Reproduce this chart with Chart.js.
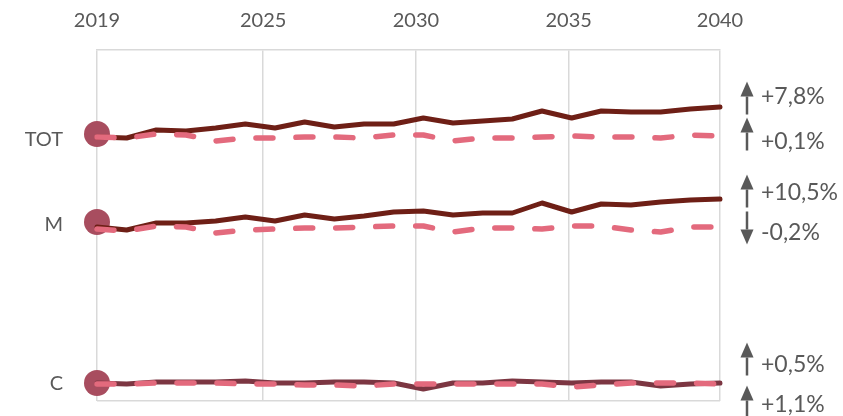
<!DOCTYPE html>
<html>
<head>
<meta charset="utf-8">
<script src="https://cdn.jsdelivr.net/npm/chart.js@4.4.1/dist/chart.umd.min.js"></script>
<style>
    html, body { margin: 0; padding: 0; background: #ffffff; }
    #wrap { width: 843px; height: 416px; }
</style>
</head>
<body>
<div id="wrap"><canvas id="trendChart" width="843" height="416"></canvas></div>
<script>
// values are levels in chart units (0 = bottom of plot, 351 = top)
var years = [2019, 2020, 2021, 2022, 2023, 2024, 2025, 2026, 2027, 2028, 2029,
             2030, 2031, 2032, 2033, 2034, 2035, 2036, 2037, 2038, 2039, 2040];
var tickYears = [2019, 2024.6, 2029.75, 2034.9, 2040];
var tickLabels = ['2019', '2025', '2030', '2035', '2040'];

var rowLabels = ['TOT', 'M', 'C'];
var rowLevels = [261, 176, 17];
var markerLevels = [267, 179, 18];

var totSolid = [264, 263, 271, 270, 273, 277, 273, 279, 274, 277, 277, 283, 278, 280, 282, 290, 283, 290, 289, 289, 292, 294];
var totDashed = [264, 263, 267, 266, 260, 263, 263, 264, 264, 263, 266, 266, 260, 263, 263, 264, 265, 264, 264, 263, 266, 265];
var mSolid = [174, 171, 178, 178, 180, 184, 180, 186, 182, 185, 189, 190, 186, 188, 188, 198, 189, 197, 196, 199, 201, 202];
var mDashed = [172, 170, 175, 174, 168, 171, 172, 173, 173, 174, 175, 175, 169, 173, 173, 172, 175, 175, 171, 169, 174, 174];
var cSolid = [18, 17, 19, 19, 19, 20, 18, 18, 19, 19, 18, 12, 18, 18, 20, 19, 18, 19, 19, 15, 17, 18];
var cDashed = [17, 17, 18, 18, 18, 17, 17, 16, 16, 15, 17, 17, 17, 17, 17, 17, 14, 16, 18, 18, 18, 17];

var changeLabels = ['+7,8%', '+0,1%', '+10,5%', '-0,2%', '+0,5%', '+1,1%'];
var changeDirections = ['up', 'up', 'up', 'down', 'up', 'up'];

var TrendChart = (function(Chart) {
    var FONT = "Lato, 'Open Sans', sans-serif";
    var TEXT = '#595959';
    var GRID = '#d9d9d9';
    var DARK = '#6e1f16';
    var DARK_C = '#7c3642';
    var PINK = '#e36a7d';
    var DOT = '#a84d5f';

    // where each change label sits (chart units) and how far its arrow is nudged (px)
    var noteLevels = [304, 259, 208, 168, 36, -4];
    var arrowShift = [1, -8, -2, -5, -6, -3];

    var toPoints = function(values) {
        return values.map(function(v, i) { return { x: years[i], y: v }; });
    };

    var lineSet = function(values, color, dashed) {
        return {
            data: toPoints(values),
            borderColor: color,
            borderWidth: dashed ? 5.5 : 5,
            borderDash: dashed ? [17, 23] : [],
            borderCapStyle: 'round',
            borderJoinStyle: 'round',
            pointRadius: 0,
            pointHoverRadius: 0,
            tension: 0,
            fill: false,
            clip: false,
            order: dashed ? 1 : 2
        };
    };

    var drawArrow = function(ctx, x, cy, dir) {
        var h = 33, head = 15, half = 6.5;
        var s = dir === 'up' ? -1 : 1;
        var tip = cy + s * h / 2;
        var base = tip - s * head;
        var tail = cy - s * h / 2;
        ctx.fillStyle = TEXT;
        ctx.strokeStyle = TEXT;
        ctx.lineWidth = 2.5;
        ctx.beginPath();
        ctx.moveTo(x, base);
        ctx.lineTo(x, tail);
        ctx.stroke();
        ctx.beginPath();
        ctx.moveTo(x, tip);
        ctx.lineTo(x - half, base);
        ctx.lineTo(x + half, base);
        ctx.closePath();
        ctx.fill();
    };

    var notesPlugin = {
        id: 'changeNotes',
        afterDraw: function(chart) {
            var ctx = chart.ctx;
            var yScale = chart.scales.y;
            var x0 = chart.chartArea.right;
            ctx.save();
            ctx.font = '23px ' + FONT;
            ctx.textAlign = 'left';
            ctx.textBaseline = 'middle';
            changeLabels.forEach(function(label, i) {
                var y = yScale.getPixelForValue(noteLevels[i]);
                drawArrow(ctx, x0 + 27, y + arrowShift[i], changeDirections[i]);
                ctx.fillStyle = TEXT;
                ctx.fillText(label, x0 + 41, y);
            });
            ctx.restore();
        }
    };

    var Controller = function(canvasId) {
        this.ctx = document.getElementById(canvasId).getContext('2d');
        this.render();
    };

    Controller.prototype.render = function() {
        var markers = markerLevels.map(function(v) { return { x: 2019, y: v }; });

        var config = {
            type: 'line',
            data: {
                datasets: [
                    {
                        data: markers,
                        showLine: false,
                        pointRadius: 13,
                        pointHoverRadius: 13,
                        pointBackgroundColor: DOT,
                        pointBorderWidth: 0,
                        clip: false,
                        order: 3
                    },
                    lineSet(totSolid, DARK, false),
                    lineSet(totDashed, PINK, true),
                    lineSet(mSolid, DARK, false),
                    lineSet(mDashed, PINK, true),
                    lineSet(cSolid, DARK_C, false),
                    lineSet(cDashed, PINK, true)
                ]
            },
            options: {
                responsive: false,
                animation: false,
                devicePixelRatio: 1,
                layout: { padding: { left: 0, right: 123, top: 0, bottom: 15 } },
                plugins: {
                    legend: { display: false },
                    tooltip: { enabled: false }
                },
                scales: {
                    x: {
                        type: 'linear',
                        position: 'top',
                        min: 2019,
                        max: 2040,
                        afterBuildTicks: function(scale) {
                            scale.ticks = tickYears.map(function(v) { return { value: v }; });
                        },
                        afterFit: function(scale) {
                            scale.height = 50;
                            scale.paddingLeft = 0;
                            scale.paddingRight = 0;
                        },
                        ticks: {
                            autoSkip: false,
                            maxRotation: 0,
                            padding: 17,
                            color: TEXT,
                            font: { family: FONT, size: 20 },
                            callback: function(value, index) { return tickLabels[index]; }
                        },
                        grid: { color: GRID, lineWidth: 1.5, drawTicks: false },
                        border: { display: true, color: GRID, width: 1.5 }
                    },
                    y: {
                        min: 0,
                        max: 351,
                        afterBuildTicks: function(scale) {
                            scale.ticks = [0].concat(rowLevels).map(function(v) { return { value: v }; });
                        },
                        afterFit: function(scale) {
                            scale.width = 97;
                            scale.paddingTop = 0;
                            scale.paddingBottom = 0;
                        },
                        ticks: {
                            autoSkip: false,
                            padding: 34,
                            color: TEXT,
                            font: { family: FONT, size: 20 },
                            callback: function(value) {
                                var i = rowLevels.indexOf(value);
                                return i < 0 ? '' : rowLabels[i];
                            }
                        },
                        grid: {
                            drawTicks: false,
                            lineWidth: 1.5,
                            color: function(c) { return c.tick && c.tick.value === 0 ? GRID : 'rgba(0,0,0,0)'; }
                        },
                        border: { display: false }
                    }
                }
            },
            plugins: [notesPlugin]
        };

        new Chart(this.ctx, config);
    };

    return Controller;
})(Chart);

new TrendChart('trendChart');
</script>
</body>
</html>
